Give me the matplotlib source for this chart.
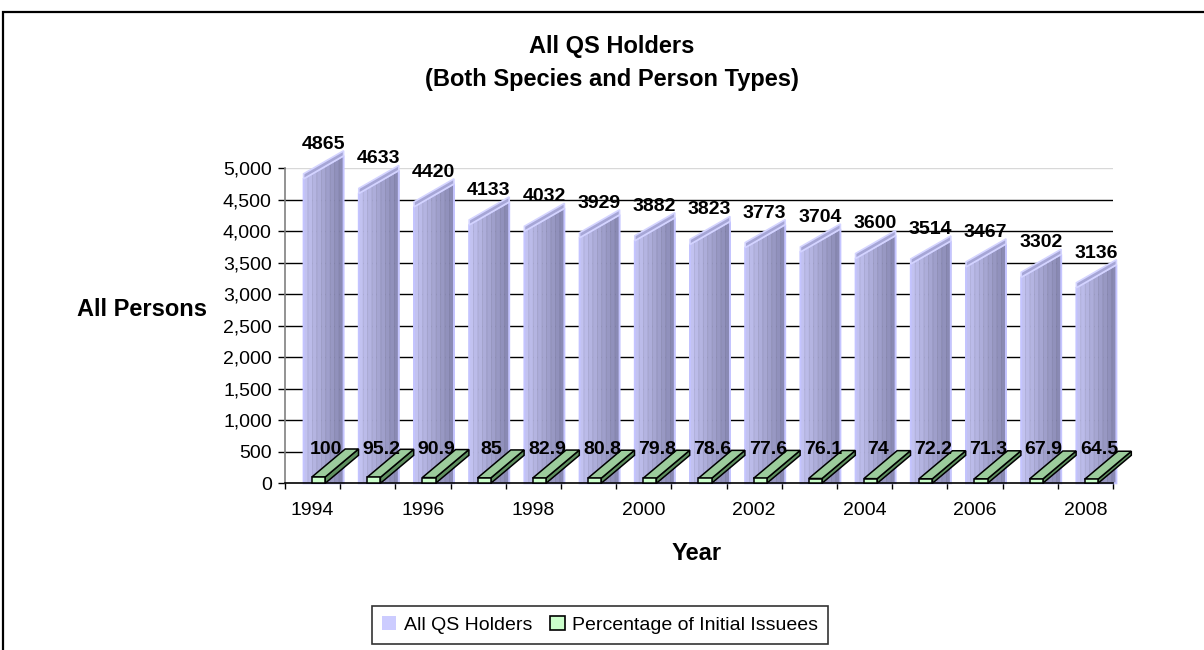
import matplotlib
matplotlib.use("Agg")
import matplotlib.pyplot as plt
import numpy as np
from matplotlib.patches import Polygon, Rectangle, Patch
from matplotlib.ticker import FuncFormatter

plt.rcParams['font.family'] = ['Liberation Sans', 'DejaVu Sans']

years = [1994, 1995, 1996, 1997, 1998, 1999, 2000, 2001, 2002, 2003, 2004, 2005, 2006, 2007, 2008]
holders = [4865, 4633, 4420, 4133, 4032, 3929, 3882, 3823, 3773, 3704, 3600, 3514, 3467, 3302, 3136]
percent = [100, 95.2, 90.9, 85, 82.9, 80.8, 79.8, 78.6, 77.6, 76.1, 74, 72.2, 71.3, 67.9, 64.5]
yticks = [0, 500, 1000, 1500, 2000, 2500, 3000, 3500, 4000, 4500, 5000]

W, H = 1204, 650
fig = plt.figure(figsize=(W / 100, H / 100), dpi=100)

# outer chart border
fig.patches.append(Rectangle((3 / W, -0.2), 1.5, 1.2 - 12 / H, transform=fig.transFigure,
                             fill=False, edgecolor='black', lw=1.6))

ax_l, ax_r, ax_b, ax_t = 285, 1113, 483.3, 168.3
ax = fig.add_axes([ax_l / W, (H - ax_b) / H, (ax_r - ax_l) / W, (ax_b - ax_t) / H])
n = len(years)
ax.set_xlim(-0.5, n - 0.5)
ax.set_ylim(0, 5000)

PXX = (n) / (ax_r - ax_l)          # category units per pixel
PXY = 5000 / (ax_b - ax_t)         # data units per pixel

# gridlines
for t in yticks[1:-1]:
    ax.axhline(t, color='black', lw=1.0, zorder=0)
ax.axhline(yticks[-1], color='#d8d8d8', lw=1.0, zorder=0)

c_left = np.array([0xc2, 0xc2, 0xf0]) / 255
c_right = np.array([0x8a, 0x8a, 0xb4]) / 255

for i, v in enumerate(holders):
    L = i - 9 * PXX
    R = i + 31 * PXX

    def ytop(x):
        return v - 2 * PXY + (x - L) / (R - L) * 23 * PXY

    ns = 9
    xs = np.linspace(L, R, ns + 1)
    for k in range(ns):
        f = k / (ns - 1)
        col = c_left * (1 - f) + c_right * f
        x0, x1 = xs[k], xs[k + 1]
        ax.add_patch(Polygon([(x0, 0), (x0, ytop(x0)), (x1, ytop(x1)), (x1, 0)],
                             closed=True, facecolor=col, edgecolor=col * 0.92, lw=0.5,
                             zorder=2, clip_on=False))
    ax.add_patch(Polygon([(L, 0), (L, ytop(L)), (R, ytop(R)), (R, 0)], closed=True,
                         fill=False, edgecolor='#c4c4ff', lw=1.4, zorder=2.1, clip_on=False))
    # top band
    ax.add_patch(Polygon([(L, ytop(L)), (R, ytop(R)), (R, ytop(R) + 5 * PXY), (L, ytop(L) + 5 * PXY)],
                         closed=True, facecolor='#a6a6d6', edgecolor='#d4d4ff', lw=1.2,
                         zorder=2.2, clip_on=False))
    ax.text(i + 10.5 * PXX, v + 28 * PXY, f"{v}", ha='center', va='baseline',
            fontsize=14, fontweight='bold', zorder=3, clip_on=False)

dx = 33.3 * PXX
dy = 28 * PXY
for i, g in enumerate(percent):
    gL = i - 0.7 * PXX
    gR = i + 12.6 * PXX
    # side face
    ax.add_patch(Polygon([(gR, 0), (gR, g), (gR + dx, g + dy), (gR + dx, dy)], closed=True,
                         facecolor='#5f8f5f', edgecolor='black', lw=1.1, zorder=4, clip_on=False))
    # top face
    ax.add_patch(Polygon([(gL, g), (gR, g), (gR + dx, g + dy), (gL + dx, g + dy)], closed=True,
                         facecolor='#9ccc9c', edgecolor='black', lw=1.1, zorder=4, clip_on=False))
    # front face
    ax.add_patch(Polygon([(gL, 0), (gR, 0), (gR, g), (gL, g)], closed=True,
                         facecolor='#ccffcc', edgecolor='black', lw=1.1, zorder=4.1, clip_on=False))
    lab = f"{g:g}"
    ax.text(i + 13.5 * PXX, 465, lab, ha='center', va='baseline',
            fontsize=14, fontweight='bold', zorder=5, clip_on=False)

# axes styling
for s in ['top', 'right']:
    ax.spines[s].set_visible(False)
ax.spines['left'].set_color('#808080')
ax.spines['left'].set_linewidth(1.2)
ax.spines['bottom'].set_color('black')
ax.spines['bottom'].set_linewidth(1.2)
ax.spines['bottom'].set_zorder(3.5)

ax.set_yticks(yticks)
ax.yaxis.set_major_formatter(FuncFormatter(lambda v, p: f"{int(v):,}"))
ax.tick_params(axis='y', direction='out', length=5, width=1, color='black', pad=4.5, labelsize=14)

ax.set_xticks(np.arange(-0.5, n, 1.0))
ax.set_xticklabels([])
ax.tick_params(axis='x', which='major', direction='out', length=4.5, width=1, color='black')
ax.set_xticks(np.arange(0, n, 2), minor=True)
ax.set_xticklabels([str(y) for y in years[::2]], minor=True)
ax.tick_params(axis='x', which='minor', length=0, pad=13.5, labelsize=14)

fig.text(612 / W, 1 - 53.5 / H, "All QS Holders", ha='center', va='baseline',
         fontsize=17, fontweight='bold')
fig.text(612 / W, 1 - 86 / H, "(Both Species and Person Types)", ha='center', va='baseline',
         fontsize=17, fontweight='bold')
fig.text(142 / W, 1 - 309 / H, "All Persons", ha='center', va='center',
         fontsize=17, fontweight='bold')
fig.text(697 / W, 1 - 553 / H, "Year", ha='center', va='center',
         fontsize=17, fontweight='bold')

handles = [Patch(facecolor='#ccccff', edgecolor='none', label='All QS Holders'),
           Patch(facecolor='#ccffcc', edgecolor='black', lw=1.2, label='Percentage of Initial Issuees')]
leg = fig.legend(handles=handles, loc='center', bbox_to_anchor=(600 / W, 1 - 625 / H),
                 ncol=2, fontsize=14, frameon=True, fancybox=False, handlelength=0.75,
                 handleheight=0.75, handletextpad=0.4, columnspacing=0.9, borderpad=0.5)
leg.get_frame().set_edgecolor('black')
leg.get_frame().set_linewidth(1.2)

fig.savefig("out.png", dpi=100)
